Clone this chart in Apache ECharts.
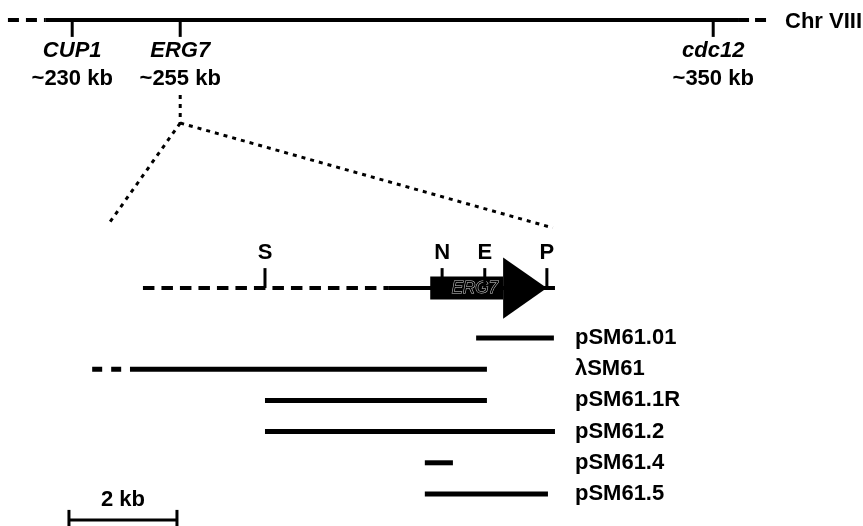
<!DOCTYPE html>
<html><head><meta charset="utf-8">
<script src="https://cdn.jsdelivr.net/npm/echarts@6/dist/echarts.min.js"></script>
<style>html,body{margin:0;padding:0;background:#fff}#c{width:863px;height:526px}</style>
</head><body><div id="c"></div><script>
// ---- Chromosome VIII overview (schematic positions, map units of the lower scale) ----
const chrLabel = 'Chr VIII';
const chrGenes = ['CUP1', 'ERG7', 'cdc12'];
const chrGeneKb = ['~230 kb', '~255 kb', '~350 kb'];
const chrGenePos = [-3.57, -1.57, 8.30];
const chrKnown = [-4.07, 8.76];      // solid part of chromosome line
const chrDrawn = [-4.76, 9.28];      // dashed continuation ends
// ---- ERG7 region restriction map (kb, relative to the SalI site) ----
const siteNames = ['S', 'N', 'E', 'P'];
const sitePos = [0, 3.28, 4.07, 5.22];
const regionDashed = [-2.26, 2.28];
const regionSolid = [2.28, 5.37];
const orfName = 'ERG7';
const orfStart = 3.06, orfHeadBase = 4.41, orfEnd = 5.22;
// ---- clones (kb, relative to the SalI site) ----
const clones = ['pSM61.01', 'λSM61', 'pSM61.1R', 'pSM61.2', 'pSM61.4', 'pSM61.5'];
const cloneStart = [3.91, -2.50, 0.00, 0.00, 2.96, 2.96];
const cloneEnd = [5.35, 4.11, 4.11, 5.37, 3.48, 5.24];
const cloneOpenLeft = [0, 0.70, 0, 0, 0, 0]; // dashed extension (kb) for unknown end
// ---- scale bar ----
const scaleKb = 2, scaleLabel = '2 kb', scaleStart = -3.63;

// layout tracks (y in row units; clone rows are 1..6)
const Y = {
  chr: -9.19, chrTick: -8.65, geneName: -8.20, geneKb: -7.30,
  zoomTop: -6.79, zoomCorner: -5.89, zoomEndL: -2.62, zoomEndR: -2.53,
  map: -0.60, siteTick: -1.24, siteLabel: -1.72, boxHalf: 0.37, headHalf: 0.98,
  scale: 6.83, scaleTickTop: 6.51, scaleTickBot: 7.03, scaleLabel: 6.19
};
const labelColX = 5.74, chrLabelX = 9.63;
const FONT = '"Liberation Sans", Arial, Helvetica, sans-serif';
const F = 'bold 22px ' + FONT, FI = 'italic bold 22px ' + FONT;

function seg(api, x1, y1, x2, y2, w, dash, cap) {
  const a = api.coord([x1, y1]), b = api.coord([x2, y2]);
  return { type: 'line', shape: { x1: a[0], y1: a[1], x2: b[0], y2: b[1] },
    style: { stroke: '#000', lineWidth: w, lineDash: dash || null, lineCap: cap || 'butt', fill: null } };
}
function txt(api, x, y, s, font, align) {
  const p = api.coord([x, y]);
  return { type: 'text', x: p[0], y: p[1],
    style: { text: s, font: font, fill: '#000', align: align || 'center', verticalAlign: 'middle',
      textAlign: align || 'center', textVerticalAlign: 'middle' } };
}

const series = [];
// chromosome backbone
series.push({ type: 'custom', data: [[0]], silent: true, renderItem: (p, api) => ({ type: 'group', children: [
  seg(api, chrDrawn[0], Y.chr, chrKnown[0], Y.chr, 4, [11, 7]),
  seg(api, chrKnown[0], Y.chr, chrKnown[1], Y.chr, 4),
  seg(api, chrKnown[1], Y.chr, chrDrawn[1], Y.chr, 4, [11, 6]),
  txt(api, chrLabelX, Y.chr + 0.05, chrLabel, F, 'left')
] }) });
// chromosome markers
series.push({ type: 'custom', silent: true, data: chrGenePos.map((v, i) => [v, i]), renderItem: (p, api) => {
  const x = api.value(0), i = api.value(1);
  return { type: 'group', children: [
    seg(api, x, Y.chr, x, Y.chrTick, 3),
    txt(api, x, Y.geneName, chrGenes[i], FI),
    txt(api, x, Y.geneKb, chrGeneKb[i], F)
  ] };
} });
// zoom lines from ERG7 to the region
series.push({ type: 'custom', silent: true, data: [[chrGenePos[1]]], renderItem: (p, api) => {
  const x = api.value(0);
  return { type: 'group', children: [
    seg(api, x, Y.zoomTop, x, Y.zoomCorner, 3, [4, 5]),
    seg(api, x, Y.zoomCorner, regionDashed[0] - 0.65, Y.zoomEndL, 3, [4, 5]),
    seg(api, x, Y.zoomCorner, regionSolid[1] - 0.04, Y.zoomEndR, 3, [4, 5])
  ] };
} });
// restriction map + ORF arrow
series.push({ type: 'custom', silent: true, data: [[0]], renderItem: (p, api) => {
  const b0 = api.coord([orfStart, Y.map - Y.boxHalf]), b1 = api.coord([orfHeadBase, Y.map + Y.boxHalf]);
  const h0 = api.coord([orfHeadBase, Y.map - Y.headHalf]), h1 = api.coord([orfHeadBase, Y.map + Y.headHalf]);
  const tip = api.coord([orfEnd, Y.map]);
  const mid = api.coord([(orfStart + orfHeadBase) / 2 + 0.15, Y.map]);
  return { type: 'group', children: [
    seg(api, regionDashed[0], Y.map, regionDashed[1], Y.map, 4, [11.5, 7]),
    seg(api, regionSolid[0], Y.map, regionSolid[1], Y.map, 4),
    { type: 'rect', shape: { x: b0[0], y: b0[1], width: b1[0] - b0[0], height: b1[1] - b0[1] }, style: { fill: '#000' } },
    { type: 'text', x: mid[0], y: mid[1], style: { text: orfName, font: 'italic 17px ' + FONT, fill: '#000', stroke: '#cfcfcf', lineWidth: 1,
      align: 'center', verticalAlign: 'middle', textAlign: 'center', textVerticalAlign: 'middle' } },
    { type: 'polygon', shape: { points: [h0, h1, tip] }, style: { fill: '#000' } }
  ] };
} });
// restriction sites
series.push({ type: 'custom', silent: true, data: sitePos.map((v, i) => [v, i]), renderItem: (p, api) => {
  const x = api.value(0), i = api.value(1);
  return { type: 'group', children: [
    seg(api, x, Y.siteTick, x, Y.map, 3),
    txt(api, x, Y.siteLabel, siteNames[i], F)
  ] };
} });
// clones
series.push({ type: 'custom', silent: true, data: clones.map((n, i) => [cloneStart[i], cloneEnd[i], i + 1, i]), renderItem: (p, api) => {
  const s = api.value(0), e = api.value(1), row = api.value(2), i = api.value(3);
  const ch = [seg(api, s, row, e, row, 5)];
  if (cloneOpenLeft[i] > 0) ch.push(seg(api, s - cloneOpenLeft[i], row, s, row, 5, [10, 9]));
  ch.push(txt(api, labelColX, row, clones[i], F, 'left'));
  return { type: 'group', children: ch };
} });
// scale bar
series.push({ type: 'custom', silent: true, data: [[scaleStart, scaleKb]], renderItem: (p, api) => {
  const s = api.value(0), e = s + api.value(1);
  return { type: 'group', children: [
    seg(api, s, Y.scale, e, Y.scale, 3),
    seg(api, s, Y.scaleTickTop, s, Y.scaleTickBot, 3),
    seg(api, e, Y.scaleTickTop, e, Y.scaleTickBot, 3),
    txt(api, (s + e) / 2, Y.scaleLabel, scaleLabel, F)
  ] };
} });

const chart = echarts.init(document.getElementById('c'), null, { renderer: 'canvas' });
chart.setOption({
  animation: false,
  backgroundColor: '#fff',
  grid: { left: 0, right: 0, top: 0, bottom: 0 },
  xAxis: { type: 'value', min: -4.907, max: 11.074, show: false },
  yAxis: { type: 'value', inverse: true, min: -9.833, max: 7.026, show: false },
  series: series
});
</script></body></html>
